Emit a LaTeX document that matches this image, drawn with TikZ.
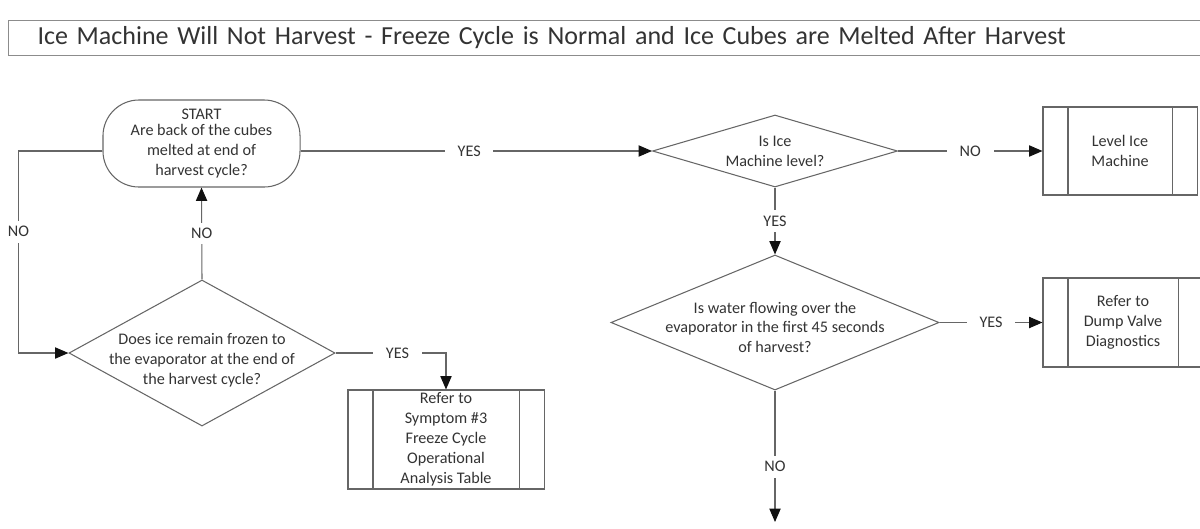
\documentclass[tikz,border=0pt]{standalone}
\usepackage{fontspec}
\setmainfont{Carlito}
\usepackage{tikz}
\usetikzlibrary{arrows.meta,shapes.geometric}
\definecolor{IMLine}{HTML}{666666}
\definecolor{IMText}{HTML}{333333}
\definecolor{IMHead}{HTML}{111111}
\definecolor{IMFrame}{HTML}{8C8C8C}
\newcommand{\boxfont}{\fontsize{11.5}{14.2}\selectfont}

\tikzset{
  txt/.style={font=\boxfont, text=IMText, align=center},
  titlebox/.style={draw=IMFrame, line width=0.7pt, font=\fontsize{18.5}{21}\selectfont, text=IMText,
    minimum height=0.875cm, inner xsep=0.725cm, text width=28.6cm, align=left},
  startbox/.style={txt, draw=IMLine, line width=0.75pt, rounded corners=0.9cm,
    minimum width=4.925cm, minimum height=2.175cm, inner sep=0pt},
  decision/.style={diamond, draw=IMLine, line width=0.75pt, inner sep=0pt},
  refbox/.style={txt, draw=IMLine, line width=0.75pt, inner sep=0pt, path picture={
      \draw[IMLine, line width=0.75pt] ([xshift=0.625cm]path picture bounding box.north west) -- ([xshift=0.625cm]path picture bounding box.south west);
      \draw[IMLine, line width=0.75pt] ([xshift=-0.625cm]path picture bounding box.north east) -- ([xshift=-0.625cm]path picture bounding box.south east);}},
  flow/.style={draw=IMLine, line width=0.75pt, -{Triangle[length=9.5pt, width=8pt, color=IMHead]}},
  lbl/.style={txt, fill=white, inner xsep=9pt, inner ysep=4pt},
}

\begin{document}
\begin{tikzpicture}[x=0.025cm, y=-0.025cm]
\useasboundingbox (0,0) rectangle (1200,528);
\clip (0,0) rectangle (1200,528);

\node[titlebox, anchor=west] (title) at (8,37.5)
  {Ice Machine Will Not Harvest - Freeze Cycle is Normal and Ice Cubes are Melted After Harvest};

% left branch
\node[startbox] (start) at (201.5,143.5)
  {START\\[-3pt]Are back of the cubes\\melted at end of\\harvest cycle?};
\node[decision, minimum width=6.65cm, minimum height=3.65cm,
  label={[txt, yshift=-5pt]center:Does ice remain frozen to\\the evaporator at the end of\\the harvest cycle?}] (q1) at (202,353) {};
\node[refbox, minimum width=4.9cm, minimum height=2.475cm] (ref3) at (446,439.5)
  {Refer to\\Symptom \#3\\Freeze Cycle\\Operational\\Analysis Table};

% right branch
\node[decision, minimum width=6.125cm, minimum height=1.8cm,
  label={[txt]center:Is Ice\\Machine level?}] (q2) at (775,151) {};
\node[refbox, minimum width=3.85cm, minimum height=2.2cm] (lvl) at (1120,151)
  {Level Ice\\Machine};
\node[decision, minimum width=8.2cm, minimum height=3.375cm,
  label={[txt, yshift=-3.5pt]center:Is water flowing over the\\evaporator in the first 45 seconds\\of harvest?}] (q3) at (775,322.5) {};
\node[refbox, minimum width=4cm, minimum height=2.225cm] (dump) at (1123,322.5)
  {Refer to\\Dump Valve\\Diagnostics};
\coordinate (nxt) at (775,522);

% connectors
\draw[flow] (start.east |- q2.west) -- node[lbl, pos=0.48]{YES} (q2.west);
\draw[flow] (start.west |- q2.west) -- ++(-84,0) |- node[lbl, pos=0.2]{NO} (q1.west);
\draw[flow] (q1.north) -- node[lbl]{NO} (start.south);
\draw[flow] (q1.east) -| node[lbl, pos=0.28]{YES} (ref3.north);
\draw[flow] (q2.east) -- node[lbl]{NO} (lvl.west);
\draw[flow] (q2.south) -- node[lbl]{YES} (q3.north);
\draw[flow] (q3.east) -- node[lbl]{YES} (dump.west);
\draw[flow] (q3.south) -- node[lbl, pos=0.58]{NO} (nxt);
\end{tikzpicture}
\end{document}
